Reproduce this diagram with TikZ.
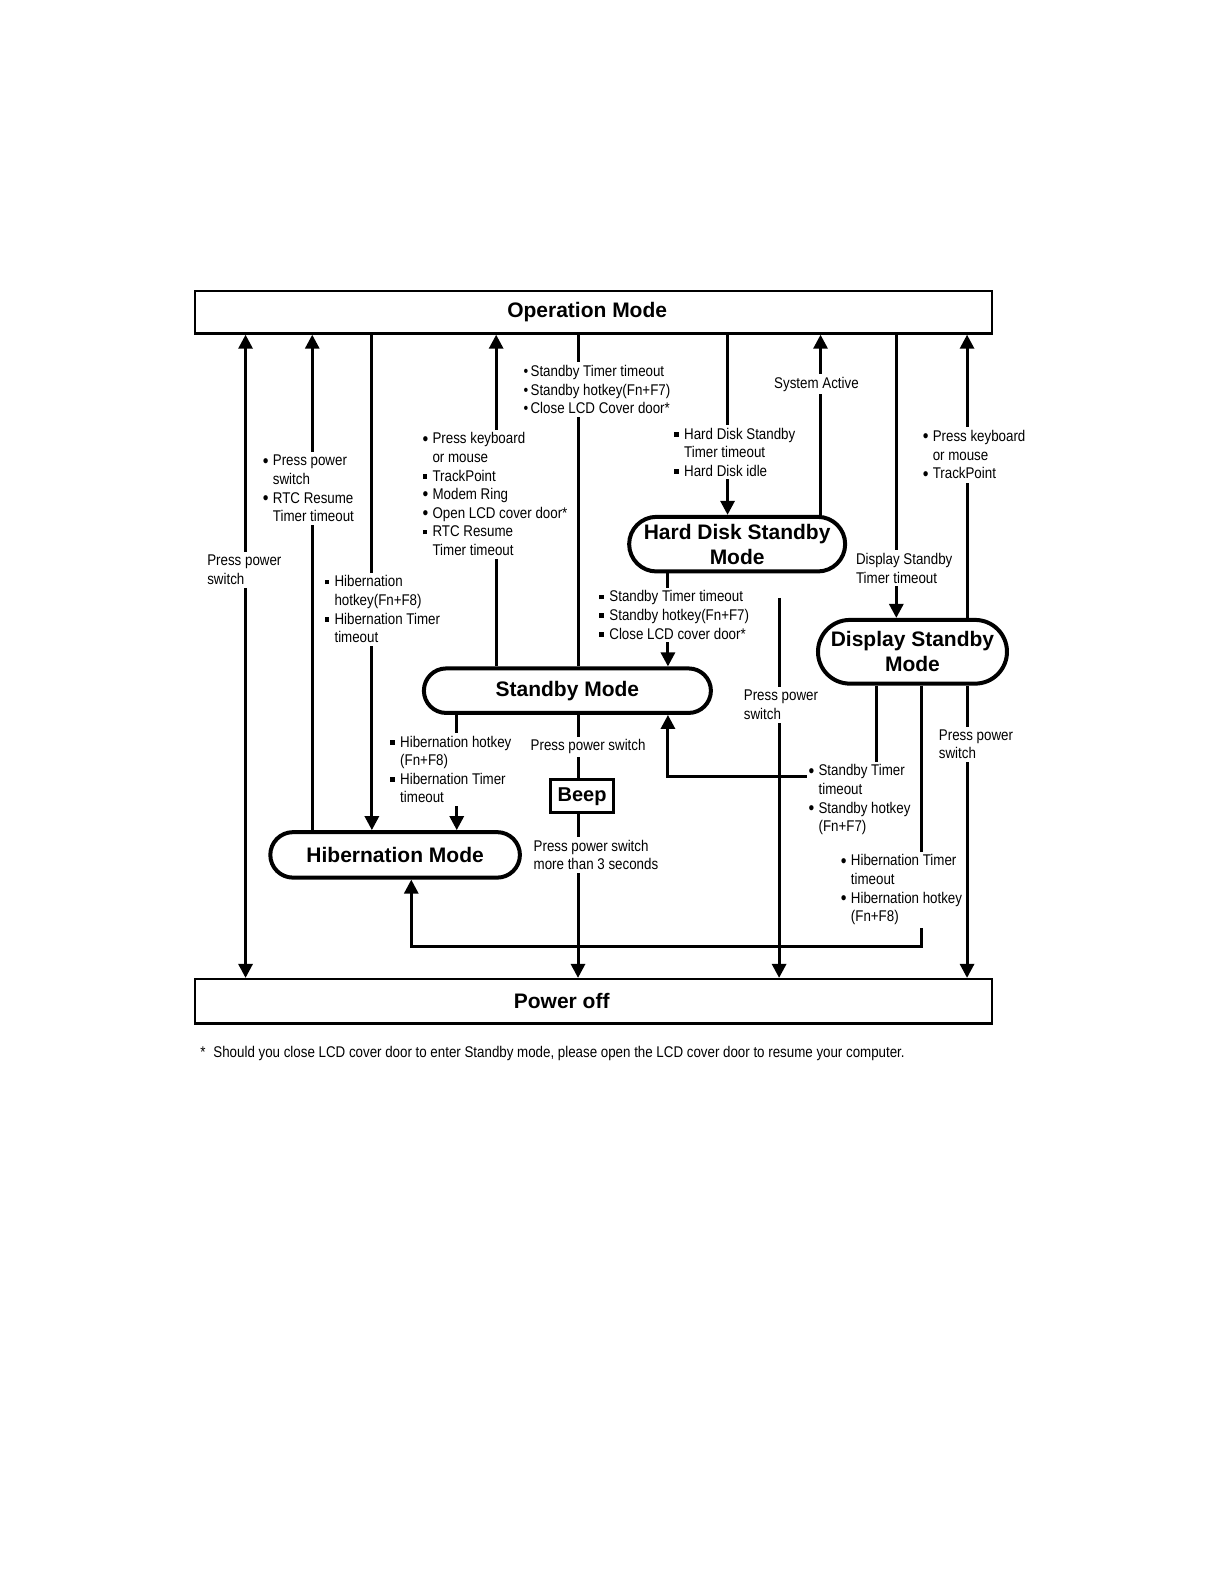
\documentclass[tikz,border=0pt]{standalone}
\usepackage{fontspec}
\setmainfont{Liberation Sans}
\newfontfamily\lblfont[FakeStretch=0.86]{Liberation Sans}
\usetikzlibrary{arrows.meta,shapes.misc}
\newcommand\rb{\makebox[10pt][l]{\raisebox{-1.2pt}{\fontsize{19}{0}\selectfont\textbullet}}}
\newcommand\rbn{\makebox[7pt][l]{\textbullet}}
\newcommand\sqb{\makebox[10pt][l]{\rule[2.5pt]{4.5pt}{4.5pt}}}
\newcommand\ind{\hspace*{10pt}}
\tikzset{
 bigbox/.style={draw, line width=2.5pt, minimum width=797pt, inner sep=0pt, font=\fontsize{21}{24}\selectfont\bfseries},
 oval/.style={draw, rounded rectangle, line width=4pt, inner sep=0pt, align=center, font=\fontsize{21}{25}\selectfont\bfseries},
 conn/.style={line width=3pt},
 arr/.style={conn, -{Triangle[length=14pt,width=14pt]}},
 dbl/.style={conn, {Triangle[length=14pt,width=14pt]}-{Triangle[length=14pt,width=14pt]}},
 lbl/.style={fill=white, inner xsep=2pt, inner ysep=3pt, align=left, anchor=west, font=\lblfont\fontsize{15.5}{18.6}\selectfont},
}
\begin{document}
\begin{tikzpicture}[x=1.0105pt,y=-1.0105pt]
\useasboundingbox[fill=white] (0pt,0pt) rectangle (1224pt,-1584pt);
% boxes
\node[bigbox, minimum height=42.4pt] (op) at (587.5,309) {Operation Mode\hspace*{13pt}};
\node[bigbox, minimum height=44.5pt] (pw) at (587.5,991) {Power off\hspace*{64pt}};
\node[oval, minimum width=216pt, minimum height=54.6pt] (hds) at (729.5,538.5) {Hard Disk Standby\\Mode};
\node[oval, minimum width=189pt, minimum height=63.7pt] (ds) at (903,645) {Display Standby\\Mode};
\node[oval, minimum width=287pt, minimum height=44.5pt] (sb) at (561.5,683.5) {Standby Mode};
\node[oval, minimum width=249.6pt, minimum height=45.5pt] (hib) at (391,846) {Hibernation Mode};
\node[draw, line width=3pt, minimum width=63.7pt, minimum height=33.3pt, inner sep=0pt, font=\fontsize{20}{24}\selectfont\bfseries] (beep) at (576,788) {Beep};
% connectors
\draw[dbl] (243,0 |- pw.north) -- (243,0 |- op.south);
\draw[arr] (309,0 |- hib.north) -- (309,0 |- op.south);
\draw[arr] (368,0 |- op.south) -- (368,0 |- hib.north);
\draw[arr] (491,0 |- sb.north) -- (491,0 |- op.south);
\draw[conn] (572,0 |- op.south) -- (572,0 |- sb.north);
\draw[arr] (720,0 |- op.south) -- (720,0 |- hds.north);
\draw[arr] (812,0 |- hds.north) -- (812,0 |- op.south);
\draw[arr] (887,0 |- op.south) -- (887,0 |- ds.north);
\draw[arr] (957,0 |- ds.north) -- (957,0 |- op.south);
\draw[arr] (957,0 |- ds.south) -- (957,0 |- pw.north);
\draw[arr] (661,0 |- hds.south) -- (661,0 |- sb.north);
\draw[arr, shorten <=24.3pt] (771,0 |- hds.south) -- (771,0 |- pw.north);
\draw[arr] (452,0 |- sb.south) -- (452,0 |- hib.north);
\draw[conn] (572,0 |- sb.south) -- (572,0 |- beep.north);
\draw[arr] (572,0 |- beep.south) -- (572,0 |- pw.north);
\coordinate (c1) at (661,768);
\coordinate (c2) at (407,937);
\draw[arr] (867,0 |- ds.south) |- (c1) -- (661,0 |- sb.south);
\draw[arr] (912,0 |- ds.south) |- (c2) -- (407,0 |- hib.south);
% labels
\node[lbl] (l1) at (203,564) {Press power\\switch};
\node[lbl] (l2) at (258,483.5) {\rb Press power\\\ind switch\\\rb RTC Resume\\\ind Timer timeout};
\node[lbl] (l3) at (319,603) {\sqb Hibernation\\\ind hotkey(Fn+F8)\\\sqb Hibernation Timer\\\ind timeout};
\node[lbl] (l4) at (416,489) {\rb Press keyboard\\\ind or mouse\\\sqb TrackPoint\\\rb Modem Ring\\\rb Open LCD cover door*\\\sqb RTC Resume\\\ind Timer timeout};
\node[lbl] (l5) at (516,385.5) {\rbn Standby Timer timeout\\\rbn Standby hotkey(Fn+F7)\\\rbn Close LCD Cover door*};
\node[lbl] (l6) at (665,447.5) {\sqb Hard Disk Standby\\\ind Timer timeout\\\sqb Hard Disk idle};
\node[lbl] (l7) at (764,380) {System Active};
\node[lbl] (l8) at (911,450.5) {\rb Press keyboard\\\ind or mouse\\\rb TrackPoint};
\node[lbl] (l9) at (845,562.5) {Display Standby\\Timer timeout};
\node[lbl] (l10) at (591,608.5) {\sqb Standby Timer timeout\\\sqb Standby hotkey(Fn+F7)\\\sqb Close LCD cover door*};
\node[lbl] (l11) at (734,697.5) {Press power\\switch};
\node[lbl] (l12) at (927,736.5) {Press power\\switch};
\node[lbl] (l13) at (384,761.5) {\sqb Hibernation hotkey\\\ind (Fn+F8)\\\sqb Hibernation Timer\\\ind timeout};
\node[lbl] (l14) at (523,739) {Press power switch};
\node[lbl] (l15) at (526,846) {Press power switch\\more than 3 seconds};
\node[lbl] (l16) at (798,791.5) {\rb Standby Timer\\\ind timeout\\\rb Standby hotkey\\\ind (Fn+F7)};
\node[lbl] (l17) at (830,880.5) {\rb Hibernation Timer\\\ind timeout\\\rb Hibernation hotkey\\\ind (Fn+F8)};
\node[lbl] (fn) at (196,1043) {*\hspace{8pt}Should you close LCD cover door to enter Standby mode, please open the LCD cover door to resume your computer.};
\end{tikzpicture}
\end{document}
